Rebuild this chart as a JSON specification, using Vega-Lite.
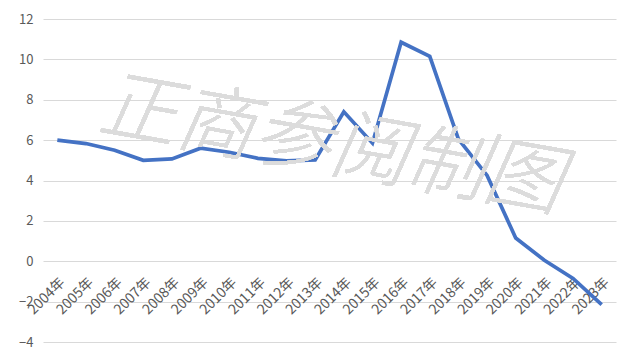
{
  "$schema": "https://vega.github.io/schema/vega-lite/v6.json",
  "width": 573,
  "height": 323,
  "autosize": {"type": "none"},
  "padding": {"left": 43, "top": 19, "right": 19, "bottom": 20},
  "background": "white",
  "config": {
    "font": "Noto Sans CJK SC",
    "view": {"stroke": null},
    "axis": {"labelFont": "Noto Sans CJK SC", "labelColor": "#595959", "grid": false, "domain": false, "ticks": false}
  },
  "data": {
    "values": [
      {"year": "2004年", "value": 6.0},
      {"year": "2005年", "value": 5.83},
      {"year": "2006年", "value": 5.5},
      {"year": "2007年", "value": 5.0},
      {"year": "2008年", "value": 5.07},
      {"year": "2009年", "value": 5.6},
      {"year": "2010年", "value": 5.4},
      {"year": "2011年", "value": 5.1},
      {"year": "2012年", "value": 4.97},
      {"year": "2013年", "value": 5.02},
      {"year": "2014年", "value": 7.4},
      {"year": "2015年", "value": 5.85},
      {"year": "2016年", "value": 10.85},
      {"year": "2017年", "value": 10.15},
      {"year": "2018年", "value": 6.05},
      {"year": "2019年", "value": 4.25},
      {"year": "2020年", "value": 1.15},
      {"year": "2021年", "value": 0.05},
      {"year": "2022年", "value": -0.85},
      {"year": "2023年", "value": -2.15}
    ]
  },
  "layer": [
    {
      "mark": {"type": "line", "color": "#4472C4", "strokeWidth": 3.7, "strokeJoin": "miter"},
      "encoding": {
        "x": {
          "field": "year", "type": "nominal", "sort": null, "title": null,
          "axis": {"labelAngle": -45, "labelFontSize": 14, "offset": -81, "labelPadding": 14, "labelOverlap": false}
        },
        "y": {
          "field": "value", "type": "quantitative", "title": null,
          "scale": {"domain": [-4, 12], "nice": false, "zero": false},
          "axis": {"values": [-4, -2, 0, 2, 4, 6, 8, 10, 12], "grid": true, "gridColor": "#d9d9d9", "gridWidth": 1, "labelFontSize": 13, "labelPadding": 10}
        }
      }
    },
    {
      "mark": {"type": "text", "text": "正商参阅制图", "fontSize": 78, "angle": 10, "fontStyle": "italic", "fontWeight": 300, "color": "#dcdcdc", "opacity": 0.55, "dx": 16, "align": "center", "baseline": "middle"},
      "encoding": {
        "x": {"datum": "2013年"},
        "y": {"datum": 5.8}
      }
    }
  ]
}
